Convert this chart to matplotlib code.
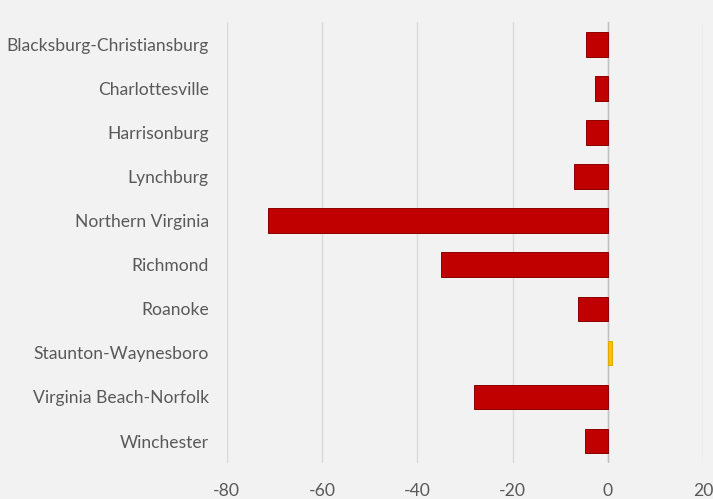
import matplotlib
matplotlib.use("Agg")
from matplotlib import pyplot as plt

regions = ['Blacksburg-Christiansburg', 'Charlottesville', 'Harrisonburg',
           'Lynchburg', 'Northern Virginia', 'Richmond', 'Roanoke',
           'Staunton-Waynesboro', 'Virginia Beach-Norfolk', 'Winchester']
values = [-4.6, -2.7, -4.6, -7.1, -71.4, -35.1, -6.3, 0.8, -28.1, -4.7]
x_ticks = [-80, -60, -40, -20, 0, 20]

BG = '#F2F2F2'
TEXT = '#595959'
plt.rcParams['font.family'] = ['Lato', 'DejaVu Sans']
plt.rcParams['axes.unicode_minus'] = False

fig = plt.figure(figsize=(7.13, 4.99), dpi=100, facecolor=BG)
ax = fig.add_axes([0.318, 0.072, 0.668, 0.883])
ax.set_facecolor(BG)

colors = ['#FFC000' if v > 0 else '#C00000' for v in values]
edges = ['#E0A800' if v > 0 else '#8B0000' for v in values]
pos = list(range(len(regions)))
ax.barh(pos, values, height=0.56, color=colors, edgecolor=edges, linewidth=0.7, zorder=3)

ax.set_ylim(len(regions) - 0.5, -0.5)
ax.set_yticks(pos)
ax.set_yticklabels(regions)
ax.set_xlim(-80, 20)
ax.set_xticks(x_ticks)
ax.grid(axis='x', color='#D9D9D9', linewidth=1, zorder=0)
ax.axvline(0, color='#BFBFBF', linewidth=1, zorder=2)
for s in ax.spines.values():
    s.set_visible(False)
ax.tick_params(length=0, colors=TEXT, labelsize=12.6)
ax.tick_params(axis='y', pad=13)
ax.tick_params(axis='x', pad=14)

fig.savefig('out.png', dpi=100, facecolor=BG)
